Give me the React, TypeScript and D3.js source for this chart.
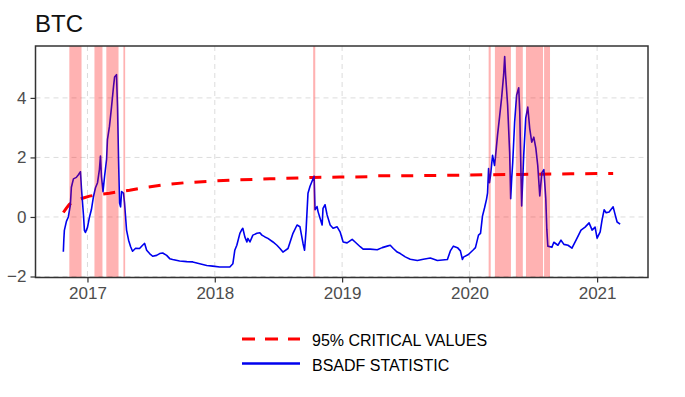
import { useEffect, useRef } from "react"
import * as d3 from "d3"

// decimal years
const bsadfTime = [
  2016.811, 2016.815, 2016.819, 2016.835, 2016.85, 2016.866, 2016.874, 2016.89, 2016.913, 2016.929,
  2016.945, 2016.953, 2016.969, 2016.976, 2016.984, 2017.0, 2017.016, 2017.031, 2017.047, 2017.063,
  2017.079, 2017.094, 2017.102, 2017.11, 2017.122, 2017.134, 2017.15, 2017.157, 2017.173, 2017.189,
  2017.205, 2017.213, 2017.228, 2017.236, 2017.244, 2017.252, 2017.26, 2017.268, 2017.283, 2017.291,
  2017.307, 2017.323, 2017.339, 2017.354, 2017.378, 2017.409, 2017.433, 2017.449, 2017.465, 2017.488,
  2017.512, 2017.543, 2017.567, 2017.591, 2017.622, 2017.646, 2017.669, 2017.724, 2017.78, 2017.827,
  2017.882, 2017.937, 2017.984, 2018.039, 2018.094, 2018.118, 2018.142, 2018.157, 2018.173, 2018.197,
  2018.213, 2018.22, 2018.236, 2018.252, 2018.26, 2018.276, 2018.299, 2018.331, 2018.354, 2018.37,
  2018.394, 2018.417, 2018.457, 2018.488, 2018.512, 2018.535, 2018.575, 2018.614, 2018.646, 2018.669,
  2018.693, 2018.705, 2018.717, 2018.732, 2018.748, 2018.764, 2018.78, 2018.787, 2018.803, 2018.811,
  2018.843, 2018.85, 2018.866, 2018.882, 2018.906, 2018.929, 2018.961, 2018.984, 2019.008, 2019.039,
  2019.079, 2019.102, 2019.142, 2019.165, 2019.22, 2019.276, 2019.315, 2019.354, 2019.378, 2019.402,
  2019.433, 2019.457, 2019.496, 2019.535, 2019.591, 2019.638, 2019.693, 2019.748, 2019.827, 2019.85,
  2019.874, 2019.906, 2019.929, 2019.945, 2019.953, 2019.992, 2020.031, 2020.047, 2020.071, 2020.087,
  2020.102, 2020.118, 2020.134, 2020.142, 2020.15, 2020.157, 2020.165, 2020.181, 2020.197, 2020.205,
  2020.22, 2020.236, 2020.252, 2020.268, 2020.276, 2020.283, 2020.299, 2020.315, 2020.323, 2020.331,
  2020.339, 2020.354, 2020.37, 2020.386, 2020.394, 2020.402, 2020.409, 2020.425, 2020.441, 2020.457,
  2020.472, 2020.488, 2020.504, 2020.52, 2020.535, 2020.551, 2020.567, 2020.583, 2020.598, 2020.606,
  2020.614, 2020.646, 2020.661, 2020.693, 2020.717, 2020.74, 2020.772, 2020.803, 2020.835, 2020.874,
  2020.906, 2020.937, 2020.961, 2020.984, 2021.0, 2021.024, 2021.039, 2021.055, 2021.071, 2021.094,
  2021.126, 2021.142, 2021.157, 2021.181,
]

const bsadfValue = [
  -1.17, -0.75, -0.45, -0.15, 0.0, 0.4, 1.0, 1.28, 1.33, 1.42,
  1.52, 0.95, 0.05, -0.45, -0.52, -0.35, 0.0, 0.25, 0.68, 0.98,
  1.15, 1.6, 2.05, 1.35, 0.85, 1.35, 1.93, 2.6, 3.05, 3.7,
  4.4, 4.7, 4.78, 3.7, 1.93, 0.47, 0.34, 0.85, 0.8, 0.47,
  -0.44, -0.78, -1.0, -1.15, -1.05, -1.06, -0.95, -0.89, -1.12, -1.23,
  -1.32, -1.29, -1.23, -1.21, -1.29, -1.4, -1.43, -1.48, -1.5, -1.51,
  -1.57, -1.63, -1.65, -1.68, -1.68, -1.68, -1.57, -1.12, -0.95, -0.55,
  -0.42, -0.38, -0.67, -0.84, -0.72, -0.84, -0.61, -0.55, -0.53, -0.61,
  -0.67, -0.72, -0.84, -0.95, -1.06, -1.18, -1.06, -0.55, -0.27, -0.33,
  -0.89, -1.12, -0.44, 0.8, 1.03, 1.2, 1.37, 0.24, 0.35, 0.18,
  -0.27, 0.29, 0.41, 0.07, -0.27, -0.38, -0.33, -0.5, -0.84, -0.87,
  -0.75, -0.84, -1.0, -1.08, -1.08, -1.1, -1.03, -0.98, -0.95, -1.06,
  -1.18, -1.23, -1.34, -1.42, -1.46, -1.42, -1.38, -1.46, -1.43, -1.14,
  -0.98, -1.03, -1.14, -1.43, -1.35, -1.26, -1.1, -1.03, -0.61, -0.55,
  0.03, 0.3, 0.6, 0.81, 1.63, 1.15, 1.39, 2.07, 1.73, 2.07,
  2.75, 3.36, 4.0, 4.78, 5.39, 4.78, 3.76, 2.17, 0.61, 1.29,
  1.83, 3.19, 4.1, 4.34, 3.53, 1.83, 0.37, 2.07, 3.32, 3.69,
  2.98, 2.51, 2.68, 2.31, 1.73, 0.71, 1.49, 1.59, 0.61, -0.41,
  -0.98, -1.02, -0.85, -0.95, -0.78, -0.92, -0.95, -1.05, -0.78, -0.44,
  -0.34, -0.2, -0.44, -0.34, -0.71, -0.5, -0.1, 0.24, 0.14, 0.17,
  0.34, 0.07, -0.17, -0.24,
]

const cvTime = [
  2016.811, 2016.835, 2016.858, 2016.89, 2016.921, 2016.961, 2017.016, 2017.094, 2017.173, 2017.252,
  2017.331, 2017.449, 2017.606, 2017.764, 2017.961, 2018.197, 2018.433, 2018.772, 2018.984, 2019.205,
  2019.236, 2019.614, 2020.008, 2020.402, 2020.795, 2021.126,
]
const cvValue = [
  0.15, 0.3, 0.42, 0.52, 0.58, 0.63, 0.7, 0.76, 0.8, 0.85,
  0.9, 0.99, 1.08, 1.15, 1.2, 1.25, 1.28, 1.33, 1.34, 1.35,
  1.38, 1.39, 1.41, 1.43, 1.45, 1.46,
]

// explosive periods (shaded)
const bandStart = [
  "2016-11-10", "2017-01-21", "2017-02-24", "2017-04-14", "2018-10-10",
  "2020-02-25", "2020-03-14", "2020-05-13", "2020-06-11", "2020-08-02",
]
const bandEnd = [
  "2016-12-15", "2017-02-13", "2017-03-31", "2017-04-19", "2018-10-16",
  "2020-03-02", "2020-04-29", "2020-06-02", "2020-07-30", "2020-08-19",
]

const yTicks = [-2, 0, 2, 4]
const xTickYears = [2017, 2018, 2019, 2020, 2021]
const legendLabels = ["95% CRITICAL VALUES", "BSADF STATISTIC"]

const yearToDate = (t) => {
  const y = Math.floor(t)
  const s = Date.UTC(y, 0, 1)
  const e = Date.UTC(y + 1, 0, 1)
  return new Date(s + (t - y) * (e - s))
}

const App = () => {
  const svgRef = useRef()

  useEffect(() => {
    const svg = d3.select(svgRef.current)
    svg.selectAll("*").remove()

    const W = 685
    const H = 397
    const panel = { left: 35.5, right: 648, top: 46, bottom: 277.5 }
    const font = "'Liberation Sans', Arial, sans-serif"

    const bsadf = bsadfTime.map((t, i) => ({ date: yearToDate(t), value: bsadfValue[i] }))
    const cv = cvTime.map((t, i) => ({ date: yearToDate(t), value: cvValue[i] }))

    // ggplot style 5% expansion
    const xExt = d3.extent(bsadf, (d) => +d.date)
    const xPad = (xExt[1] - xExt[0]) * 0.05
    const x = d3
      .scaleUtc()
      .domain([new Date(xExt[0] - xPad), new Date(xExt[1] + xPad)])
      .range([panel.left, panel.right])

    const yExt = d3.extent(bsadfValue.concat(cvValue))
    const yPad = (yExt[1] - yExt[0]) * 0.05
    const y = d3
      .scaleLinear()
      .domain([yExt[0] - yPad, yExt[1] + yPad])
      .range([panel.bottom, panel.top])

    svg.append("rect").attr("width", W).attr("height", H).attr("fill", "white")

    // grid
    const grid = svg.append("g")
    grid
      .selectAll("line.gy")
      .data(yTicks)
      .join("line")
      .attr("x1", panel.left)
      .attr("x2", panel.right)
      .attr("y1", (d) => y(d))
      .attr("y2", (d) => y(d))
      .attr("stroke", "#dcdcdc")
      .attr("stroke-width", 1)
      .attr("stroke-dasharray", "5,4")
    grid
      .selectAll("line.gx")
      .data(xTickYears)
      .join("line")
      .attr("x1", (d) => x(yearToDate(d)))
      .attr("x2", (d) => x(yearToDate(d)))
      .attr("y1", panel.top)
      .attr("y2", panel.bottom)
      .attr("stroke", "#dcdcdc")
      .attr("stroke-width", 1)
      .attr("stroke-dasharray", "5,4")

    const line = d3
      .line()
      .x((d) => x(d.date))
      .y((d) => y(d.value))

    svg
      .append("path")
      .datum(cv)
      .attr("fill", "none")
      .attr("stroke", "#ff0000")
      .attr("stroke-width", 3)
      .attr("stroke-dasharray", "12,11")
      .attr("d", line)

    svg
      .append("path")
      .datum(bsadf)
      .attr("fill", "none")
      .attr("stroke", "#0000ee")
      .attr("stroke-width", 1.6)
      .attr("stroke-linejoin", "round")
      .attr("d", line)

    // shaded periods go on top, semi transparent
    svg
      .append("g")
      .selectAll("rect")
      .data(bandStart.map((s, i) => [new Date(s), new Date(bandEnd[i])]))
      .join("rect")
      .attr("x", (d) => x(d[0]))
      .attr("width", (d) => Math.max(1.5, x(d[1]) - x(d[0])))
      .attr("y", panel.top)
      .attr("height", panel.bottom - panel.top)
      .attr("fill", "#ff0000")
      .attr("fill-opacity", 0.3)

    // panel border
    svg
      .append("rect")
      .attr("x", panel.left)
      .attr("y", panel.top)
      .attr("width", panel.right - panel.left)
      .attr("height", panel.bottom - panel.top)
      .attr("fill", "none")
      .attr("stroke", "#333333")
      .attr("stroke-width", 1.5)

    // y axis
    const yAxis = svg
      .append("g")
      .attr("transform", `translate(${panel.left},0)`)
      .call(d3.axisLeft(y).tickValues(yTicks).tickSize(5).tickPadding(4).tickFormat(d3.format("d")))
    yAxis.select(".domain").remove()
    yAxis.selectAll("line").attr("stroke", "#333333").attr("stroke-width", 1.2)
    yAxis
      .selectAll("text")
      .attr("fill", "#4d4d4d")
      .style("font-family", font)
      .style("font-size", "17px")

    // x axis
    const xAxis = svg
      .append("g")
      .attr("transform", `translate(0,${panel.bottom})`)
      .call(
        d3
          .axisBottom(x)
          .tickValues(xTickYears.map(yearToDate))
          .tickSize(5)
          .tickPadding(4)
          .tickFormat(d3.utcFormat("%Y")),
      )
    xAxis.select(".domain").remove()
    xAxis.selectAll("line").attr("stroke", "#333333").attr("stroke-width", 1.2)
    xAxis
      .selectAll("text")
      .attr("fill", "#4d4d4d")
      .style("font-family", font)
      .style("font-size", "17px")

    // title
    svg
      .append("text")
      .attr("x", 35)
      .attr("y", 32)
      .text("BTC")
      .style("font-family", font)
      .style("font-size", "24px")
      .attr("fill", "#111")

    // legend
    const legend = svg.append("g")
    const legendStyles = [
      { color: "#ff0000", width: 3, dash: "13,10" },
      { color: "#0000ee", width: 2.5, dash: null },
    ]
    legendLabels.forEach((label, i) => {
      const ly = 339 + i * 24.5
      legend
        .append("line")
        .attr("x1", 242)
        .attr("x2", 300)
        .attr("y1", ly)
        .attr("y2", ly)
        .attr("stroke", legendStyles[i].color)
        .attr("stroke-width", legendStyles[i].width)
        .attr("stroke-dasharray", legendStyles[i].dash)
      legend
        .append("text")
        .attr("x", 312)
        .attr("y", ly + 7)
        .text(label)
        .style("font-family", font)
        .style("font-size", "16px")
        .attr("fill", "#000")
    })
  }, [])

  return (
    <svg
      ref={svgRef}
      width={685}
      height={397}
      style={{ position: "absolute", left: 0, top: 0, display: "block" }}
    ></svg>
  )
}

export default App
